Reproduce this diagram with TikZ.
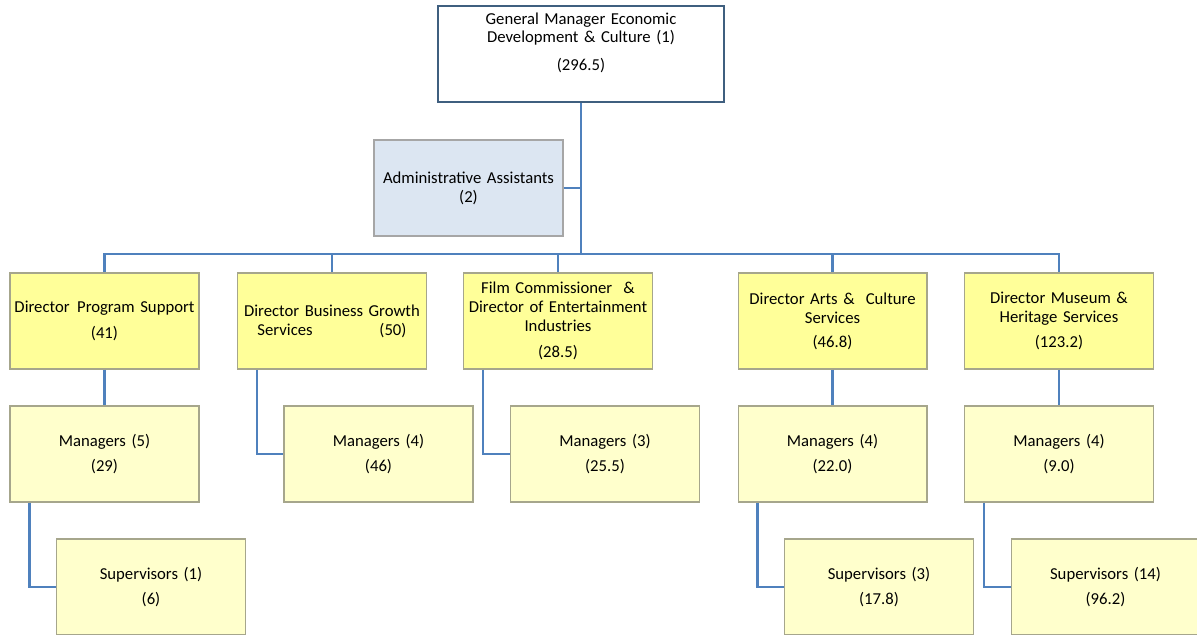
\documentclass[tikz,border=0pt]{standalone}
\usepackage{fontspec}
\setmainfont{Carlito}
\usetikzlibrary{positioning}
\definecolor{linkblue}{HTML}{4F81BD}
\definecolor{boxgray}{HTML}{A6A68C}
\definecolor{topedge}{HTML}{3F5F7F}
\definecolor{diryellow}{HTML}{FFFF99}
\definecolor{mgryellow}{HTML}{FFFFCC}
\definecolor{adminblue}{HTML}{DCE6F2}

\begin{document}
\begin{tikzpicture}[x=0.02cm,y=-0.02cm,every node/.style={rectangle,draw=boxgray,line width=0.6pt,minimum width=3.78cm,minimum height=1.92cm,text width=3.7cm,inner sep=0.04cm,align=center,font=\fontsize{9.5}{10.8}\selectfont},dir/.style={fill=diryellow},mgr/.style={fill=mgryellow},link/.style={draw=linkblue,line width=1.4pt}]
\useasboundingbox (0,0) rectangle (1197,635);
\node[draw=topedge,line width=1.2pt,fill=white,minimum width=5.72cm,text width=5.5cm,text height=0pt,text depth=1.2cm] (gm) at (581,54) {General Manager Economic\\ Development \& Culture (1)\\[5pt] (296.5)};
\node[fill=adminblue,draw=gray!70] (admin) at (468.5,188) {Administrative Assistants\\ (2)};
\node[dir] (d1) at (104.5,321) {Director\hspace{0.45em}Program Support\\[4pt] (41)};
\node[dir] (d2) at (332,321) {Director Business Growth\\ Services\hspace{4em}(50)};
\node[dir] (d3) at (558,321) {Film Commissioner \ \&\\ Director of Entertainment\\ Industries\\[4pt] (28.5)};
\node[dir] (d4) at (832.5,321) {Director Arts \& \ Culture\\ Services\\[3pt] (46.8)};
\node[dir] (d5) at (1059,321) {Director Museum \&\\ Heritage Services\\[3pt] (123.2)};
\node[mgr] (m1) at (104.5,454) {Managers (5)\\[3pt] (29)};
\node[mgr] (m2) at (378.5,454) {Managers (4)\\[3pt] (46)};
\node[mgr] (m3) at (605,454) {Managers (3)\\[3pt] (25.5)};
\node[mgr] (m4) at (832.5,454) {Managers (4)\\[3pt] (22.0)};
\node[mgr] (m5) at (1059,454) {Managers (4)\\[3pt] (9.0)};
\node[mgr] (s1) at (151,587) {Supervisors (1)\\[3pt] (6)};
\node[mgr] (s4) at (879,587) {Supervisors (3)\\[3pt] (17.8)};
\node[mgr] (s5) at (1105.5,587) {Supervisors (14)\\[3pt] (96.2)};
\coordinate (bus) at (gm.south |- 0,254);
\draw[link] (gm.south) -- (bus);
\draw[link] (admin.east) -- (admin.east -| gm.south);
\draw[link] (bus) -| (d1.north);
\draw[link] (bus) -| (d2.north);
\draw[link] (bus) -| (d3.north);
\draw[link] (bus) -| (d4.north);
\draw[link] (bus) -| (d5.north);
\draw[link] (d1.south) -- (m1.north);
\draw[link] ([xshift=0.4cm]d2.south west) |- (m2.west);
\draw[link] ([xshift=0.4cm]d3.south west) |- (m3.west);
\draw[link] (d4.south) -- (m4.north);
\draw[link] (d5.south) -- (m5.north);
\draw[link] ([xshift=0.4cm]m1.south west) |- (s1.west);
\draw[link] ([xshift=0.4cm]m4.south west) |- (s4.west);
\draw[link] ([xshift=0.4cm]m5.south west) |- (s5.west);
\end{tikzpicture}
\end{document}
